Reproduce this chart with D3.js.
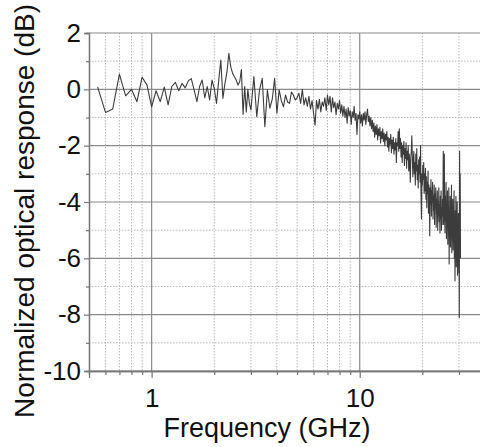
<!DOCTYPE html>
<html>
<head>
<meta charset="utf-8">
<script src="https://cdn.jsdelivr.net/npm/d3@7"></script>
<style>
  body { margin: 0; background: #fff; }
  svg { display: block; font-family: "Liberation Sans", Arial, sans-serif; }
</style>
</head>
<body>
<script>
var freqGHz = [
  0.55, 0.60, 0.65, 0.70, 0.75, 0.80, 0.85, 0.90, 0.95, 1.00,
  1.05, 1.10, 1.15, 1.20, 1.25, 1.30, 1.35, 1.40, 1.45, 1.50,
  1.55, 1.60, 1.65, 1.70, 1.75, 1.80, 1.85, 1.90, 1.95, 2.00,
  2.05, 2.10, 2.15, 2.20, 2.25, 2.30, 2.35, 2.40, 2.45, 2.50,
  2.55, 2.60, 2.65, 2.70, 2.75, 2.80, 2.85, 2.90, 2.95, 3.00,
  3.1, 3.2, 3.3, 3.4, 3.5, 3.6, 3.7, 3.8, 3.9, 4.0,
  4.1, 4.2, 4.3, 4.4, 4.5, 4.6, 4.7, 4.8, 4.9, 5.0,
  5.1, 5.2, 5.3, 5.4, 5.5, 5.6, 5.7, 5.8, 5.9, 6.0,
  6.1, 6.2, 6.3, 6.4, 6.5, 6.6, 6.7, 6.8, 6.9, 7.0,
  7.1, 7.2, 7.3, 7.4, 7.5, 7.6, 7.7, 7.8, 7.9, 8.0,
  8.1, 8.2, 8.3, 8.4, 8.5, 8.6, 8.7, 8.8, 8.9, 9.0,
  9.1, 9.2, 9.3, 9.4, 9.5, 9.6, 9.7, 9.8, 9.9, 10.0,
  10.1, 10.2, 10.3, 10.4, 10.5, 10.6, 10.7, 10.8, 10.9, 11.0,
  11.1, 11.2, 11.3, 11.4, 11.5, 11.6, 11.7, 11.8, 11.9, 12.0,
  12.1, 12.2, 12.3, 12.4, 12.5, 12.6, 12.7, 12.8, 12.9, 13.0,
  13.1, 13.2, 13.3, 13.4, 13.5, 13.6, 13.7, 13.8, 13.9, 14.0,
  14.1, 14.2, 14.3, 14.4, 14.5, 14.6, 14.7, 14.8, 14.9, 15.0,
  15.1, 15.2, 15.3, 15.4, 15.5, 15.6, 15.7, 15.8, 15.9, 16.0,
  16.1, 16.2, 16.3, 16.4, 16.5, 16.6, 16.7, 16.8, 16.9, 17.0,
  17.1, 17.2, 17.3, 17.4, 17.5, 17.6, 17.7, 17.8, 17.9, 18.0,
  18.1, 18.2, 18.3, 18.4, 18.5, 18.6, 18.7, 18.8, 18.9, 19.0,
  19.1, 19.2, 19.3, 19.4, 19.5, 19.6, 19.7, 19.8, 19.9, 20.0,
  20.1, 20.2, 20.3, 20.4, 20.5, 20.6, 20.7, 20.8, 20.9, 21.0,
  21.1, 21.2, 21.3, 21.4, 21.5, 21.6, 21.7, 21.8, 21.9, 22.0,
  22.1, 22.2, 22.3, 22.4, 22.5, 22.6, 22.7, 22.8, 22.9, 23.0,
  23.1, 23.2, 23.3, 23.4, 23.5, 23.6, 23.7, 23.8, 23.9, 24.0,
  24.1, 24.2, 24.3, 24.4, 24.5, 24.6, 24.7, 24.8, 24.9, 25.0,
  25.1, 25.2, 25.3, 25.4, 25.5, 25.6, 25.7, 25.8, 25.9, 26.0,
  26.1, 26.2, 26.3, 26.4, 26.5, 26.6, 26.7, 26.8, 26.9, 27.0,
  27.1, 27.2, 27.3, 27.4, 27.5, 27.6, 27.7, 27.8, 27.9, 28.0,
  28.1, 28.2, 28.3, 28.4, 28.5, 28.6, 28.7, 28.8, 28.9, 29.0,
  29.1, 29.2, 29.3, 29.4, 29.5, 29.6, 29.7, 29.8, 29.9, 30.0,
  30.1, 30.2, 30.3, 30.4, 30.5
];

var responseDb = [
  0.09, -0.82, -0.70, 0.54, -0.23, 0.00, -0.44, 0.43, 0.15, -0.62,
  -0.05, -0.44, 0.08, -0.55, 0.10, 0.25, -0.05, 0.21, 0.05, 0.30,
  0.38, -0.02, -0.44, 0.10, 0.33, -0.30, 0.10, -0.38, 0.33, 0.03,
  -0.50, 0.30, 1.04, -0.32, 0.20, 0.60, 1.28, 0.80, 0.57, 0.45,
  0.33, 0.15, 0.27, 0.70, -0.88, 0.10, -0.80, 0.00, -0.50, -0.73,
  0.45, -0.97, -0.02, 0.39, -1.33, -0.02, -0.67, -0.35, 0.39, -0.85,
  -0.02, -0.40, -0.62, -0.20, -0.45, -0.50, -0.10, -0.20, -0.38, -0.30,
  -0.14, -0.50, 0.00, -0.55, -0.30, -0.60, -0.25, -0.70, -0.40, -0.85,
  -1.27, -0.40, -0.70, -0.35, -0.80, -0.45, -0.60, -0.30, -0.75, -0.20,
  -0.55, -0.25, -0.80, -0.30, -0.65, -0.45, -0.90, -0.50, -0.70, -0.40,
  -0.85, -0.55, -0.95, -0.60, -1.00, -0.70, -1.20, -0.65, -0.95, -0.75,
  -1.25, -0.80, -1.00, -0.60, -1.10, -0.85, -1.60, -0.90, -1.05, -0.80,
  -1.20, -0.90, -1.30, -0.85, -1.10, -0.80, -1.25, -0.90, -0.70, -1.15,
  -0.95, -1.30, -1.00, -1.40, -1.10, -1.50, -1.20, -1.70, -1.30, -1.60,
  -1.25, -1.80, -1.40, -1.65, -1.35, -1.90, -1.50, -1.75, -1.40, -1.85,
  -1.55, -2.00, -1.60, -1.80, -1.50, -2.05, -1.70, -2.20, -1.75, -1.95,
  -1.60, -2.25, -1.80, -2.10, -1.70, -2.30, -1.90, -2.15, -1.75, -2.60,
  -1.90, -2.00, -1.50, -2.20, -1.40, -2.10, -1.75, -2.40, -1.90, -2.60,
  -2.00, -2.30, -1.85, -2.70, -2.10, -2.45, -1.90, -2.80, -2.20, -2.50,
  -2.00, -2.90, -2.30, -2.60, -3.30, -2.40, -2.20, -1.65, -2.40, -3.10,
  -2.50, -2.20, -3.00, -2.60, -3.40, -2.30, -2.90, -2.10, -3.20, -2.70,
  -3.50, -2.50, -3.00, -2.40, -3.30, -2.00, -3.60, -4.60, -3.00, -3.40,
  -2.70, -3.20, -2.60, -3.70, -3.00, -3.60, -2.80, -3.90, -3.10, -4.20,
  -3.30, -3.70, -2.90, -4.40, -3.40, -3.90, -5.20, -3.50, -4.10, -3.20,
  -4.50, -3.60, -4.00, -3.30, -4.60, -3.80, -4.30, -3.40, -4.80, -3.70,
  -4.20, -3.50, -4.90, -3.90, -4.40, -3.60, -5.00, -4.00, -4.50, -3.50,
  -4.70, -4.10, -5.10, -3.80, -4.60, -3.60, -5.00, -4.20, -4.80, -3.90,
  -4.50, -2.20, -4.80, -3.50, -2.30, -4.40, -5.10, -3.80, -4.70, -3.30,
  -5.30, -4.10, -4.90, -3.60, -5.50, -4.30, -5.00, -3.50, -6.20, -4.40,
  -5.20, -3.80, -5.60, -4.60, -5.00, -3.40, -5.80, -4.20, -5.30, -3.90,
  -5.70, -4.50, -5.10, -3.60, -6.00, -4.70, -6.80, -4.30, -5.40, -3.80,
  -6.30, -4.90, -5.60, -4.00, -6.60, -5.00, -5.90, -4.40, -6.50, -5.20,
  -8.10, -2.20, -5.50, -3.00, -6.00
];

// Axis ticks and grid positions
var yMajorTicks = [-10, -8, -6, -4, -2, 0, 2];
var yMinorTicks = [-9, -7, -5, -3, -1, 1];
var xMajorTicks = [1, 10];
var xMinorTicks = [0.6, 0.7, 0.8, 0.9, 2, 3, 4, 5, 6, 7, 8, 9, 20, 30];

var svgWidth = 480;
var svgHeight = 447;

var margin = {
  top: 33,
  right: -5,
  bottom: 76,
  left: 89
};

var chartWidth = svgWidth - margin.left - margin.right;
var chartHeight = svgHeight - margin.top - margin.bottom;

var svg = d3.select("body")
  .append("svg")
  .attr("width", svgWidth)
  .attr("height", svgHeight);

var chartGroup = svg.append("g")
  .attr("transform", `translate(${margin.left},${margin.top})`);

var xScale = d3.scaleLog()
  .domain([0.5, 40])
  .range([0, chartWidth]);

var yScale = d3.scaleLinear()
  .domain([-10, 2])
  .range([chartHeight, 0]);

// minor grid (dotted)
chartGroup.selectAll(".vminor")
  .data(xMinorTicks)
  .enter().append("line")
  .attr("x1", d => xScale(d)).attr("x2", d => xScale(d))
  .attr("y1", 0).attr("y2", chartHeight)
  .attr("stroke", "#b8b8b8")
  .attr("stroke-width", 1)
  .attr("stroke-dasharray", "1.5,1.5");

chartGroup.selectAll(".hminor")
  .data(yMinorTicks)
  .enter().append("line")
  .attr("x1", 0).attr("x2", chartWidth)
  .attr("y1", d => yScale(d)).attr("y2", d => yScale(d))
  .attr("stroke", "#b8b8b8")
  .attr("stroke-width", 1)
  .attr("stroke-dasharray", "1.5,1.5");

// major grid (solid)
chartGroup.selectAll(".vmajor")
  .data(xMajorTicks)
  .enter().append("line")
  .attr("x1", d => xScale(d)).attr("x2", d => xScale(d))
  .attr("y1", 0).attr("y2", chartHeight)
  .attr("stroke", "#8a8a8a")
  .attr("stroke-width", 1.2);

chartGroup.selectAll(".hmajor")
  .data(yMajorTicks)
  .enter().append("line")
  .attr("x1", 0).attr("x2", chartWidth)
  .attr("y1", d => yScale(d)).attr("y2", d => yScale(d))
  .attr("stroke", "#8a8a8a")
  .attr("stroke-width", 1.2);

// data line
var line = d3.line()
  .x((d, i) => xScale(freqGHz[i]))
  .y(d => yScale(d));

chartGroup.append("path")
  .datum(responseDb)
  .attr("d", line)
  .attr("fill", "none")
  .attr("stroke", "#3c3c3c")
  .attr("stroke-width", 1.1)
  .attr("stroke-linejoin", "round");

// axes
var leftAxis = d3.axisLeft(yScale)
  .tickValues(yMajorTicks)
  .tickSize(5)
  .tickPadding(3)
  .tickFormat(d => String(d));

var leftMinor = d3.axisLeft(yScale)
  .tickValues(yMinorTicks)
  .tickSize(3)
  .tickFormat("");

var bottomAxis = d3.axisBottom(xScale)
  .tickValues(xMajorTicks)
  .tickSize(7)
  .tickFormat(d => String(d));

var bottomMinor = d3.axisBottom(xScale)
  .tickValues(xMinorTicks)
  .tickSize(4)
  .tickFormat("");

function styleAxis(g) {
  g.select(".domain").attr("stroke", "#777").attr("stroke-width", 1.3);
  g.selectAll(".tick line").attr("stroke", "#777").attr("stroke-width", 1.2);
  g.selectAll("text")
    .attr("fill", "#111")
    .style("font-size", "26px")
    .style("font-family", "'Liberation Sans', Arial, sans-serif");
}

chartGroup.append("g").call(leftMinor).call(styleAxis);
chartGroup.append("g").call(leftAxis).call(styleAxis);

chartGroup.append("g")
  .attr("transform", `translate(0, ${chartHeight})`)
  .call(bottomMinor).call(styleAxis);

var xAxisGroup = chartGroup.append("g")
  .attr("transform", `translate(0, ${chartHeight})`)
  .call(bottomAxis).call(styleAxis);

xAxisGroup.selectAll("text")
  .attr("y", 36)
  .attr("dy", 0);

// axis titles
svg.append("text")
  .attr("x", 267)
  .attr("y", 437)
  .attr("text-anchor", "middle")
  .style("font-size", "27px")
  .attr("fill", "#111")
  .text("Frequency (GHz)");

svg.append("text")
  .attr("transform", "translate(34, 211) rotate(-90)")
  .attr("text-anchor", "middle")
  .style("font-size", "28px")
  .attr("fill", "#111")
  .text("Normalized optical response (dB)");
</script>
</body>
</html>
